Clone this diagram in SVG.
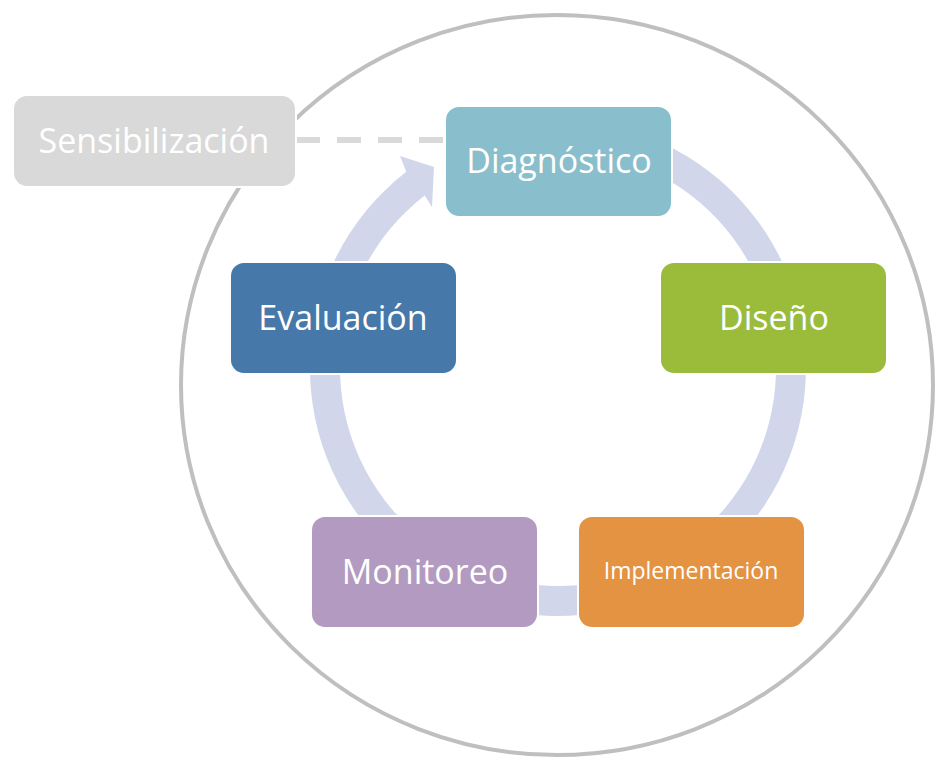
<svg xmlns="http://www.w3.org/2000/svg" width="936" height="757" viewBox="0 0 936 757">
<style>
.box{stroke:#ffffff;stroke-width:2}
.lbl{font-family:"Open Sans","Noto Sans",sans-serif;font-size:34px;fill:#ffffff;text-anchor:middle}
.sm{font-size:23px}
</style>
<rect width="936" height="757" fill="#ffffff"/>
<ellipse id="ring" cx="557" cy="385" rx="376" ry="370" fill="none" stroke="#BFBFBF" stroke-width="4"/>
<g id="connectors">
<path id="cycle-arrow" d="M622.2,128.5 A248,248 0 1 1 406.3,171.8 L400,156 L434,167 L432,207 L424.7,195.5 A218,218 0 1 0 614.4,157.4 Z" fill="#D1D6EB"/>
<line id="dash" x1="296" y1="140" x2="445" y2="140" stroke="#D9D9D9" stroke-width="6" stroke-dasharray="24 17"/>
</g>
<g id="sensibilizacion">
<rect class="box" x="13" y="95" width="283" height="92" rx="14" fill="#D9D9D9"/>
<text class="lbl" x="154" y="153">Sensibilización</text>
</g>
<g id="diagnostico">
<rect class="box" x="445" y="106" width="227" height="111" rx="14" fill="#89BFCC"/>
<text class="lbl" x="559" y="173">Diagnóstico</text>
</g>
<g id="diseno">
<rect class="box" x="660" y="262" width="227" height="112" rx="14" fill="#9BBB3B"/>
<text class="lbl" x="774" y="330">Diseño</text>
</g>
<g id="implementacion">
<rect class="box" x="578" y="516" width="227" height="112" rx="14" fill="#E49343"/>
<text class="lbl sm" x="691" y="579">Implementación</text>
</g>
<g id="monitoreo">
<rect class="box" x="311" y="516" width="227" height="112" rx="14" fill="#B39AC1"/>
<text class="lbl" x="425" y="584">Monitoreo</text>
</g>
<g id="evaluacion">
<rect class="box" x="230" y="262" width="227" height="112" rx="14" fill="#4778AA"/>
<text class="lbl" x="343" y="330">Evaluación</text>
</g>
</svg>
